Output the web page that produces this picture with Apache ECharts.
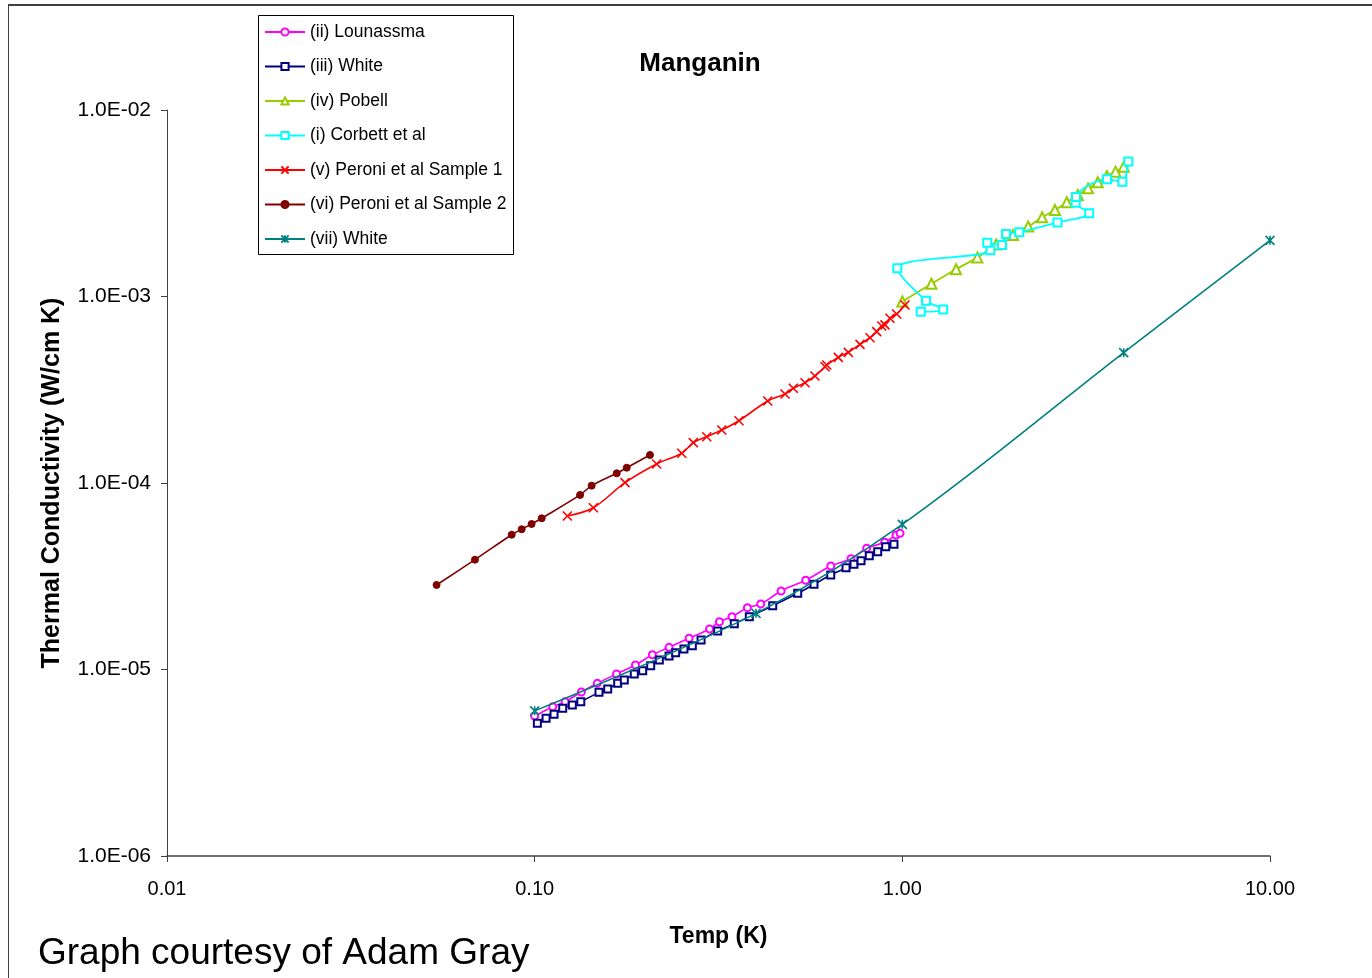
<!DOCTYPE html>
<html>
<head>
<meta charset="utf-8">
<title>Manganin</title>
<script src="https://cdn.jsdelivr.net/npm/echarts@6/dist/echarts.min.js"></script>
<style>
  html, body { margin: 0; padding: 0; background: #ffffff; }
  #chart { width: 1372px; height: 978px; }
</style>
</head>
<body>
<div id="chart"></div>
<script>
// Thermal conductivity of manganin, W/(cm K), versus temperature in K.
// Each series is a list of [T, k] pairs, kept in measurement order.

const seriesNames = [
  '(ii) Lounassma',
  '(iii) White',
  '(iv) Pobell',
  '(i) Corbett et al',
  '(v) Peroni et al Sample 1',
  '(vi) Peroni et al Sample 2',
  '(vii) White'
];

const lounasmaa = [
  [0.100, 5.63e-6], [0.112, 6.32e-6], [0.121, 6.72e-6], [0.134, 7.57e-6],
  [0.148, 8.43e-6], [0.167, 9.46e-6], [0.188, 1.057e-5], [0.209, 1.20e-5],
  [0.232, 1.315e-5], [0.263, 1.47e-5], [0.299, 1.649e-5], [0.318, 1.804e-5],
  [0.344, 1.919e-5], [0.379, 2.145e-5], [0.412, 2.245e-5], [0.468, 2.636e-5],
  [0.546, 3.008e-5], [0.639, 3.589e-5], [0.725, 3.928e-5], [0.800, 4.467e-5],
  [0.895, 4.81e-5], [0.961, 5.26e-5], [0.986, 5.37e-5]
];

const whiteIII = [
  [0.1017, 5.15e-6], [0.1074, 5.47e-6], [0.1129, 5.75e-6], [0.1192, 6.19e-6],
  [0.1266, 6.45e-6], [0.1335, 6.72e-6], [0.1496, 7.54e-6], [0.1580, 7.85e-6],
  [0.1682, 8.43e-6], [0.1753, 8.78e-6], [0.1866, 9.46e-6], [0.1967, 9.85e-6],
  [0.2068, 1.048e-5], [0.2183, 1.124e-5], [0.2320, 1.181e-5], [0.2418, 1.231e-5],
  [0.2547, 1.288e-5], [0.2684, 1.341e-5], [0.2835, 1.44e-5], [0.3146, 1.608e-5],
  [0.3491, 1.76e-5], [0.3835, 1.919e-5], [0.4441, 2.198e-5], [0.5193, 2.562e-5],
  [0.5751, 2.862e-5], [0.6387, 3.21e-5], [0.7028, 3.513e-5], [0.7387, 3.665e-5],
  [0.7721, 3.83e-5], [0.8131, 4.075e-5], [0.8570, 4.28e-5], [0.9011, 4.554e-5],
  [0.9491, 4.69e-5]
];

const pobell = [
  [1.0, 9.4e-4], [1.2, 1.17e-3], [1.4, 1.40e-3], [1.6, 1.62e-3],
  [1.8, 1.90e-3], [2.0, 2.14e-3], [2.2, 2.37e-3], [2.4, 2.66e-3],
  [2.6, 2.91e-3], [2.8, 3.20e-3], [3.0, 3.50e-3], [3.2, 3.80e-3],
  [3.4, 4.10e-3], [3.6, 4.43e-3], [3.8, 4.67e-3], [4.0, 4.97e-3]
];

const corbett = [
  [1.122, 8.29e-4], [1.292, 8.53e-4], [1.160, 9.49e-4], [0.969, 1.416e-3],
  [1.735, 1.769e-3], [1.702, 1.943e-3], [1.867, 1.888e-3], [1.914, 2.163e-3],
  [2.080, 2.209e-3], [2.642, 2.493e-3], [3.223, 2.793e-3], [2.961, 3.184e-3],
  [2.967, 3.416e-3], [3.603, 4.25e-3], [3.966, 4.13e-3], [4.118, 5.30e-3]
];

const peroni1 = [
  [0.1227, 6.65e-5], [0.1444, 7.37e-5], [0.1761, 1.004e-4], [0.2147, 1.265e-4],
  [0.2512, 1.443e-4], [0.2701, 1.645e-4], [0.2938, 1.771e-4], [0.3227, 1.924e-4],
  [0.3595, 2.158e-4], [0.4304, 2.752e-4], [0.4797, 3.00e-4], [0.5052, 3.22e-4],
  [0.5436, 3.45e-4], [0.5786, 3.75e-4], [0.6162, 4.20e-4], [0.6228, 4.29e-4],
  [0.6696, 4.72e-4], [0.7129, 5.02e-4], [0.7671, 5.54e-4], [0.8166, 6.01e-4],
  [0.8517, 6.48e-4], [0.8788, 6.95e-4], [0.8970, 7.04e-4], [0.9256, 7.64e-4],
  [0.9654, 8.06e-4], [1.0167, 9.00e-4]
];

const peroni2 = [
  [0.0541, 2.84e-5], [0.0688, 3.88e-5], [0.0866, 5.28e-5], [0.0922, 5.65e-5],
  [0.0981, 6.03e-5], [0.1045, 6.47e-5], [0.1329, 8.63e-5], [0.1429, 9.68e-5],
  [0.1672, 1.127e-4], [0.1780, 1.208e-4], [0.2059, 1.413e-4]
];

const whiteVII = [
  [0.1, 6.0e-6], [0.4, 2.0e-5], [1.0, 6.0e-5], [4.0, 5.0e-4], [10.0, 2.0e-3]
];

const seriesData = [lounasmaa, whiteIII, pobell, corbett, peroni1, peroni2, whiteVII];

// Axis ranges (decades) and the chart text
const xRange = [0.01, 10];
const yRange = [1e-6, 1e-2];
const chartTitle = 'Manganin';
const xTitle = 'Temp (K)';
const yTitle = 'Thermal Conductivity (W/cm K)';
const footnote = 'Graph courtesy of Adam Gray';

// Marker shapes: outlined "x" and an asterisk drawn as stroked paths
const crossPath = 'path://M0,0L10,10M10,0L0,10';
const starPath = 'path://M0,0L10,10M10,0L0,10M5,0L5,10';

const styles = [
  { color: '#ff00ff', symbol: 'emptyCircle', size: 7, width: 1.6 },
  { color: '#000080', symbol: 'emptyRect', size: 7, width: 1.6 },
  { color: '#99cc00', symbol: 'emptyTriangle', size: 10, width: 1.8 },
  { color: '#00ffff', symbol: 'emptyRect', size: 8, width: 1.8 },
  { color: '#ff0000', symbol: crossPath, size: 9, width: 1.6 },
  { color: '#800000', symbol: 'circle', size: 7, width: 1.6 },
  { color: '#008080', symbol: starPath, size: 9, width: 1.6 }
];

const FONT = '"Liberation Sans", Arial, Helvetica, sans-serif';

function sciLabel(v) {
  const e = Math.round(Math.log10(v));
  const m = v / Math.pow(10, e);
  return m.toFixed(1) + 'E' + (e < 0 ? '-' : '+') + String(Math.abs(e)).padStart(2, '0');
}

const series = seriesNames.map((name, i) => {
  const s = styles[i];
  const isPath = s.symbol.indexOf('path://') === 0;
  return {
    name: name,
    type: 'line',
    data: seriesData[i],
    smooth: 0.35,
    smoothMonotone: null,
    symbol: s.symbol,
    symbolSize: s.size,
    showAllSymbol: true,
    lineStyle: { color: s.color, width: s.width },
    itemStyle: isPath
      ? { color: 'rgba(0,0,0,0)', borderColor: s.color, borderWidth: 1.6 }
      : (s.symbol === 'circle'
          ? { color: s.color, borderColor: s.color, borderWidth: 1 }
          : { color: s.color, borderColor: s.color, borderWidth: 1.5 }),
    emphasis: { disabled: true },
    animation: false,
    z: 2 + i
  };
});

const chart = echarts.init(document.getElementById('chart'), null, { renderer: 'canvas' });

chart.setOption({
  backgroundColor: '#ffffff',
  animation: false,
  textStyle: { fontFamily: FONT },
  title: {
    text: chartTitle,
    left: 695,
    top: 46,
    textAlign: 'center',
    textStyle: { fontFamily: FONT, fontSize: 26, fontWeight: 'bold', color: '#000' }
  },
  legend: {
    orient: 'vertical',
    left: 258,
    top: 15,
    padding: [8, 6, 8, 6],
    itemWidth: 40,
    itemHeight: 9,
    itemGap: 16.5,
    data: seriesNames,
    selectedMode: false,
    textStyle: { fontFamily: FONT, fontSize: 17.5, color: '#000', lineHeight: 18, padding: [0, 0, 0, 0] }
  },
  grid: { left: 167, right: 102, top: 110, bottom: 122, containLabel: false },
  xAxis: {
    type: 'log',
    logBase: 10,
    min: xRange[0],
    max: xRange[1],
    name: xTitle,
    nameLocation: 'middle',
    nameGap: 69,
    nameTextStyle: { fontFamily: FONT, fontSize: 23, fontWeight: 'bold', color: '#000' },
    axisLine: { lineStyle: { color: '#404040', width: 1.5 } },
    axisTick: { show: true, inside: false, length: 6, lineStyle: { color: '#404040' } },
    minorTick: { show: false },
    splitLine: { show: false },
    axisLabel: {
      margin: 23,
      fontFamily: FONT,
      fontSize: 20,
      color: '#000',
      formatter: v => v.toFixed(2)
    }
  },
  yAxis: {
    type: 'log',
    logBase: 10,
    min: yRange[0],
    max: yRange[1],
    name: yTitle,
    nameLocation: 'middle',
    nameRotate: 90,
    nameGap: 102,
    nameTextStyle: { fontFamily: FONT, fontSize: 25, fontWeight: 'bold', color: '#000' },
    axisLine: { show: true, lineStyle: { color: '#404040', width: 1 } },
    axisTick: { show: true, inside: false, length: 6, lineStyle: { color: '#404040' } },
    minorTick: { show: false },
    splitLine: { show: false },
    axisLabel: {
      margin: 16,
      fontFamily: FONT,
      fontSize: 21,
      color: '#000',
      formatter: sciLabel
    }
  },
  graphic: [
    // outer frame: top edge and left edge
    { type: 'line', shape: { x1: 8, y1: 5, x2: 1372, y2: 5 }, style: { stroke: '#404040', lineWidth: 2 }, silent: true },
    { type: 'line', shape: { x1: 8.5, y1: 5, x2: 8.5, y2: 978 }, style: { stroke: '#404040', lineWidth: 1 }, silent: true },
    // legend box
    { type: 'rect', shape: { x: 258.5, y: 15.5, width: 255, height: 239 }, style: { fill: null, stroke: '#000', lineWidth: 1 }, silent: true, z: 10 },
    // credit line
    { type: 'text', left: 38, top: 935, style: { text: footnote, font: '37px ' + FONT, fill: '#000' }, silent: true }
  ],
  series: series
});
</script>
</body>
</html>
